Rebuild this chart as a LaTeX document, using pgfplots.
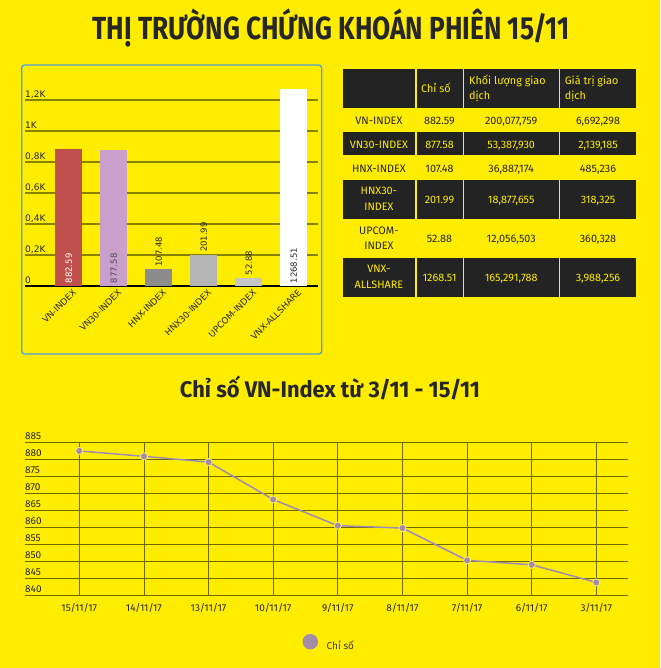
\documentclass[border=0pt]{standalone}
\usepackage{pgfplots}
\pgfplotsset{compat=1.18}
\usepackage{fontspec}
\setmainfont{Fira Sans}
\newfontfamily\dv{DejaVu Sans}

\definecolor{bgyel}{HTML}{FFED00}
\definecolor{ink}{HTML}{262626}
\definecolor{cell}{HTML}{232323}
\definecolor{gridA}{HTML}{8A8000}
\definecolor{gridB}{HTML}{6E6600}
\definecolor{boxblue}{HTML}{4A9FD0}
\definecolor{cRed}{HTML}{C0504D}
\definecolor{cPurp}{HTML}{C9A0CB}
\definecolor{cGa}{HTML}{8C8C8C}
\definecolor{cGb}{HTML}{B4B4B4}
\definecolor{cGc}{HTML}{C6C6C6}
\definecolor{lineP}{HTML}{9E8DB0}
\definecolor{markP}{HTML}{A48BA8}

\begin{document}
\begin{tikzpicture}
\fill[bgyel] (0,0) rectangle (660pt,-668pt);

% main title
\node[anchor=base, inner sep=0pt, text=ink] at (331pt,-40pt)
  {\resizebox{477pt}{\height}{\fontsize{32}{32}\selectfont\bfseries THỊ TRƯỜNG CHỨNG KHOÁN PHIÊN 15/11}};

% frame of the bar chart
\draw[boxblue, line width=1.3pt, rounded corners=3pt] (21.7pt,-65pt) rectangle (321.7pt,-354pt);

\begin{axis}[
  at={(25pt,-286pt)}, anchor=south west,
  scale only axis, width=292.7pt, height=201.5pt,
  xmin=-0.973, xmax=5.53, ymin=0, ymax=1300,
  axis x line*=bottom, axis y line*=left,
  x axis line style={draw=black, line width=2.2pt},
  y axis line style={draw=none},
  major tick length=0pt,
  ytick={0,200,...,1200},
  yticklabels={0,{0,2K},{0,4K},{0,6K},{0,8K},1K,{1,2K}},
  ymajorgrids, grid style={draw=gridA, line width=1.2pt},
  yticklabel style={anchor=base west, inner sep=0pt, yshift=2.2pt,
    font=\dv\fontsize{9}{9}\selectfont, text=ink},
  xtick={0,...,5},
  xticklabels={VN-INDEX,VN30-INDEX,HNX-INDEX,HNX30-INDEX,UPCOM-INDEX,VNX-ALLSHARE},
  xticklabel style={yshift=-2.5pt, xshift=3.5pt, rotate=45, anchor=north east, inner sep=0pt,
    font=\dv\fontsize{8.8}{8.8}\selectfont, text=ink},
  ybar, bar width=27pt, bar shift=0pt,
  nodes near coords style={rotate=90, anchor=west, inner xsep=2.5pt, inner ysep=0pt,
    font=\dv\fontsize{8.5}{8.5}\selectfont, text=ink},
  clip=false,
]
\addplot[fill=cRed, draw=none] coordinates {(0,882.59)};
\addplot[fill=cPurp, draw=none] coordinates {(1,877.58)};
\addplot[fill=cGa, draw=none, point meta=explicit symbolic, nodes near coords] coordinates {(2,107.48) [107.48]};
\addplot[fill=cGb, draw=none, point meta=explicit symbolic, nodes near coords] coordinates {(3,201.99) [201.99]};
\addplot[fill=cGc, draw=none, point meta=explicit symbolic, nodes near coords] coordinates {(4,52.88) [52.88]};
\addplot[fill=white, draw=none] coordinates {(5,1268.51)};
% labels set at the foot of the tall bars
\addplot[draw=none, fill=none, forget plot, point meta=explicit symbolic, nodes near coords,
  nodes near coords style={text=white}] coordinates {(0,0) [882.59]};
\addplot[draw=none, fill=none, forget plot, point meta=explicit symbolic, nodes near coords,
  nodes near coords style={text=black!70}] coordinates {(1,0) [877.58]};
\addplot[draw=none, fill=none, forget plot, point meta=explicit symbolic, nodes near coords,
  nodes near coords style={text=ink}] coordinates {(5,0) [1268.51]};
\end{axis}

% table
\foreach \ya/\yb in {69/108,132/155.5,180/218.5,258/296.7}{
  \foreach \xa/\xb in {342.7/415,416.5/462.5,464/558.5,560/636}{
    \fill[cell] (\xa pt,-\ya pt) rectangle (\xb pt,-\yb pt);
  }
}
\begin{scope}[every node/.style={inner sep=0pt, font=\fontsize{10.8}{10.8}\selectfont}]
\node[anchor=base west, text=bgyel] at (421pt,-92.7pt) {Chỉ số};
\node[anchor=base west, text=bgyel] at (469pt,-85pt) {Khối lượng giao};
\node[anchor=base west, text=bgyel] at (469pt,-99.3pt) {dịch};
\node[anchor=base west, text=bgyel] at (564.7pt,-85pt) {Giá trị giao};
\node[anchor=base west, text=bgyel] at (564.7pt,-99.3pt) {dịch};

\foreach \y/\c/\a/\b/\d/\e in {
  124.3/ink/VN-INDEX/882.59/{200,077,759}/{6,692,298},
  148.2/bgyel/VN30-INDEX/877.58/{53,387,930}/{2,139,185},
  172.2/ink/HNX-INDEX/107.48/{36,887,174}/{485,236},
  203.3/bgyel//201.99/{18,877,655}/{318,325},
  242.6/ink//52.88/{12,056,503}/{360,328},
  281.6/bgyel//1268.51/{165,291,788}/{3,988,256}}{
  \node[anchor=base, text=\c] at (378.9pt,-\y pt) {\a};
  \node[anchor=base, text=\c] at (439.5pt,-\y pt) {\b};
  \node[anchor=base, text=\c] at (511.2pt,-\y pt) {\d};
  \node[anchor=base, text=\c] at (598pt,-\y pt) {\e};
}
\node[anchor=base, text=bgyel] at (378.9pt,-195pt) {HNX30-};
\node[anchor=base, text=bgyel] at (378.9pt,-210.7pt) {INDEX};
\node[anchor=base, text=ink] at (378.9pt,-234.3pt) {UPCOM-};
\node[anchor=base, text=ink] at (378.9pt,-249.3pt) {INDEX};
\node[anchor=base, text=bgyel] at (378.9pt,-272.3pt) {VNX-};
\node[anchor=base, text=bgyel] at (378.9pt,-288.3pt) {ALLSHARE};
\end{scope}

% second title
\node[anchor=base, inner sep=0pt, text=ink] at (330pt,-397.3pt)
  {\resizebox{300pt}{\height}{\fontsize{22.6}{22.6}\selectfont\bfseries Chỉ số VN-Index từ 3/11 - 15/11}};

\begin{axis}[
  at={(25pt,-595.7pt)}, anchor=south west,
  scale only axis, width=603pt, height=153pt,
  xmin=-0.84, xmax=8.49, ymin=840, ymax=885,
  axis line style={draw=none}, major tick length=0pt,
  ytick={840,845,...,885}, xtick={0,...,8},
  xticklabels={15/11/17,14/11/17,13/11/17,10/11/17,9/11/17,8/11/17,7/11/17,6/11/17,3/11/17},
  xmajorgrids, ymajorgrids,
  y grid style={draw=gridB, line width=1.3pt},
  x grid style={draw=gridB, line width=0.8pt},
  /pgf/number format/assume math mode=true,
  yticklabel style={anchor=base west, inner sep=0pt, yshift=3.3pt,
    font=\fontsize{10}{10}\selectfont, text=ink},
  xticklabel style={anchor=base, inner sep=0pt, yshift=-15.3pt,
    font=\fontsize{10}{10}\selectfont, text=ink},
  legend style={at={(axis description cs:0.4599,-0.3046)}, anchor=west,
    draw=none, fill=none, inner sep=0pt, nodes={inner sep=0pt},
    font=\fontsize{10}{10}\selectfont, text=black!70!olive,
    /tikz/every odd column/.append style={column sep=8.7pt}},
  legend image code/.code={\fill[markP] (7pt,3.7pt) circle (7pt);},
  clip=false,
]
\addplot[lineP, line width=1.5pt, mark=*, mark size=3.6pt,
  mark options={fill=markP, draw=bgyel!50!white, line width=0.7pt}]
  coordinates {(0,882.59) (1,881.0) (2,879.3) (3,868.3) (4,860.6)
               (5,859.9) (6,850.4) (7,849.1) (8,843.9)};
\addlegendentry{Chỉ số}
\end{axis}

\pgfresetboundingbox
\useasboundingbox (0,0) rectangle (660pt,-668pt);
\end{tikzpicture}
\end{document}
